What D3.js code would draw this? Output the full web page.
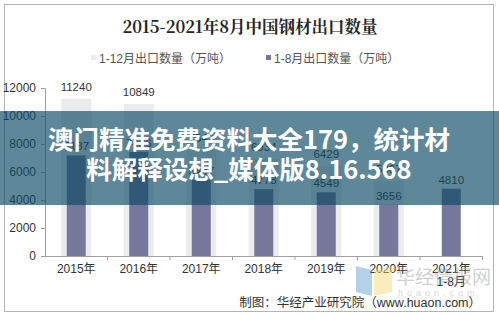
<!DOCTYPE html>
<html>
<head>
<meta charset="utf-8">
<script src="https://cdn.jsdelivr.net/npm/d3@7"></script>
<style>
  body { margin: 0; background: #fff; }
  svg { display: block; }
</style>
</head>
<body>
<div id="vis-container"></div>
<script>
const width = 499,
    height = 317;

// data
const years = ["2015年", "2016年", "2017年", "2018年", "2019年", "2020年", "2021年"];
const fullYear = [11240, 10849, 7543, 6934, 6429, 5367, null];
const janAug = [7187, 7436, 5447, 4778, 4549, 3656, 4810];
const yTicks = [0, 2000, 4000, 6000, 8000, 10000, 12000];
const legendNames = ["1-12月出口数量（万吨）", "1-8月出口数量（万吨）"];

var svg = d3.select("#vis-container").append("svg")
    .attr("width", width)
    .attr("height", height);

// frame
svg.append("rect")
    .attr("x", 4.5).attr("y", 4.5)
    .attr("width", 489).attr("height", 307)
    .attr("fill", "#fff")
    .attr("stroke", "#b4b4b4");

svg.append("text")
    .attr("x", 250).attr("y", 33)
    .attr("text-anchor", "middle")
    .style("font-family", "'Noto Serif CJK SC', 'Liberation Serif', 'Noto Sans CJK SC', serif")
    .style("font-weight", "bold")
    .style("font-size", "16.5px")
    .attr("fill", "#262626")
    .text("2015-2021年8月中国钢材出口数量");

// legend
var legend = svg.append("g").style("font-family", "'Liberation Sans', 'Noto Sans CJK SC', sans-serif")
    .style("font-size", "12px");
[[91, "#ececee"], [266, "#76779b"]].forEach(function(d, i) {
  legend.append("rect").attr("x", d[0]).attr("y", 55).attr("width", 5).attr("height", 5).attr("fill", d[1]);
  legend.append("text").attr("x", d[0] + 8).attr("y", 62.5).attr("fill", "#555").text(legendNames[i]);
});

var x = d3.scaleBand()
    .domain(years)
    .range([45, 482.5]);

var y = d3.scaleLinear()
    .domain([0, 12000])
    .range([256, 88]);

var g = svg.append("g");

// y axis
var yAxis = g.append("g")
    .attr("transform", "translate(45,0)")
    .call(d3.axisLeft(y).tickValues(yTicks).tickFormat(d3.format("d")).tickSize(4).tickPadding(5));
yAxis.select(".domain").attr("stroke", "#a0a0a0");
yAxis.selectAll(".tick line").attr("stroke", "#a0a0a0");
yAxis.selectAll("text")
    .style("font-family", "'Liberation Sans', Arial, sans-serif")
    .style("font-size", "12px")
    .attr("fill", "#333");

// x axis
var xAxis = g.append("g")
    .attr("transform", "translate(0,256)")
    .call(d3.axisBottom(x).tickSize(0).tickPadding(8));
xAxis.select(".domain").attr("stroke", "#a0a0a0");
xAxis.selectAll(".tick text")
    .style("font-family", "'Liberation Sans', 'Noto Sans CJK SC', sans-serif")
    .style("font-size", "12px")
    .attr("fill", "#333")
    .each(function(d) {
      if (d === "2021年") {
        d3.select(this).append("tspan").attr("x", 0).attr("dy", "1.15em").text("1-8月");
      }
    });
// boundary ticks between categories
xAxis.selectAll(".sep")
    .data(years)
    .enter().append("line")
    .attr("x1", function(d) { return x(d) + x.bandwidth(); })
    .attr("x2", function(d) { return x(d) + x.bandwidth(); })
    .attr("y1", 0).attr("y2", 4)
    .attr("stroke", "#a0a0a0");

var fullW = 30, augW = 19;
var idx = d3.range(years.length);

g.selectAll(".full")
    .data(idx.filter(function(i) { return fullYear[i] != null; }))
    .enter().append("rect")
    .attr("x", function(i) { return x(years[i]) + x.bandwidth() / 2 - fullW / 2; })
    .attr("width", fullW)
    .attr("y", function(i) { return y(fullYear[i]); })
    .attr("height", function(i) { return 256 - y(fullYear[i]); })
    .attr("fill", "#ececee");

g.selectAll(".aug")
    .data(idx)
    .enter().append("rect")
    .attr("x", function(i) { return x(years[i]) + x.bandwidth() / 2 - augW / 2; })
    .attr("width", augW)
    .attr("y", function(i) { return y(janAug[i]); })
    .attr("height", function(i) { return 256 - y(janAug[i]); })
    .attr("fill", "#76779b");

var lab = g.append("g")
    .style("font-family", "'Liberation Sans', Arial, sans-serif")
    .style("font-size", "11.5px")
    .attr("fill", "#333")
    .attr("text-anchor", "middle");

lab.selectAll(".lf")
    .data(idx.filter(function(i) { return fullYear[i] != null; }))
    .enter().append("text")
    .attr("x", function(i) { return x(years[i]) + x.bandwidth() / 2; })
    .attr("y", function(i) { return y(fullYear[i]) - 8; })
    .text(function(i) { return fullYear[i]; });

lab.selectAll(".la")
    .data(idx)
    .enter().append("text")
    .attr("x", function(i) { return x(years[i]) + x.bandwidth() / 2; })
    .attr("y", function(i) { return y(janAug[i]) - 5; })
    .text(function(i) { return janAug[i]; });

// source
svg.append("text")
    .attr("x", 481).attr("y", 307)
    .attr("text-anchor", "end")
    .style("font-family", "'Liberation Sans', 'Noto Sans CJK SC', sans-serif")
    .style("font-size", "12.5px")
    .attr("fill", "#333")
    .text("制图：华经产业研究院（www.huaon.com）");

// watermark
var wm = svg.append("g").attr("opacity", 0.45);
wm.append("path").attr("d", "M356,266 L372,270 L372,296 L356,292 Z").attr("fill", "#5b9bd5");
wm.append("path").attr("d", "M374,270 L392,266 L392,292 L374,296 Z").attr("fill", "#f5d76e");
wm.append("text").attr("x", 396).attr("y", 284)
    .style("font-family", "'Noto Sans CJK SC', sans-serif").style("font-size", "19px")
    .attr("fill", "#999").text("华经情报网");
wm.append("text").attr("x", 398).attr("y", 296)
    .style("font-family", "'Liberation Sans', sans-serif").style("font-size", "9px")
    .attr("letter-spacing", "4px")
    .attr("fill", "#aaa").text("huaon.com");

// overlay banner
svg.append("rect")
    .attr("x", 0).attr("y", 111)
    .attr("width", width).attr("height", 94)
    .attr("fill", "rgba(10,75,100,0.66)");
var ov = svg.append("g")
    .attr("text-anchor", "middle")
    .style("font-family", "'Noto Sans CJK SC', sans-serif")
    .style("font-weight", "bold")
    .style("font-size", "25.5px")
    .attr("fill", "#fff");
ov.append("text").attr("x", 249).attr("y", 149).text("澳门精准免费资料大全179，统计材");
ov.append("text").attr("x", 249).attr("y", 179).text("料解释设想_媒体版8.16.568");
</script>
</body>
</html>
